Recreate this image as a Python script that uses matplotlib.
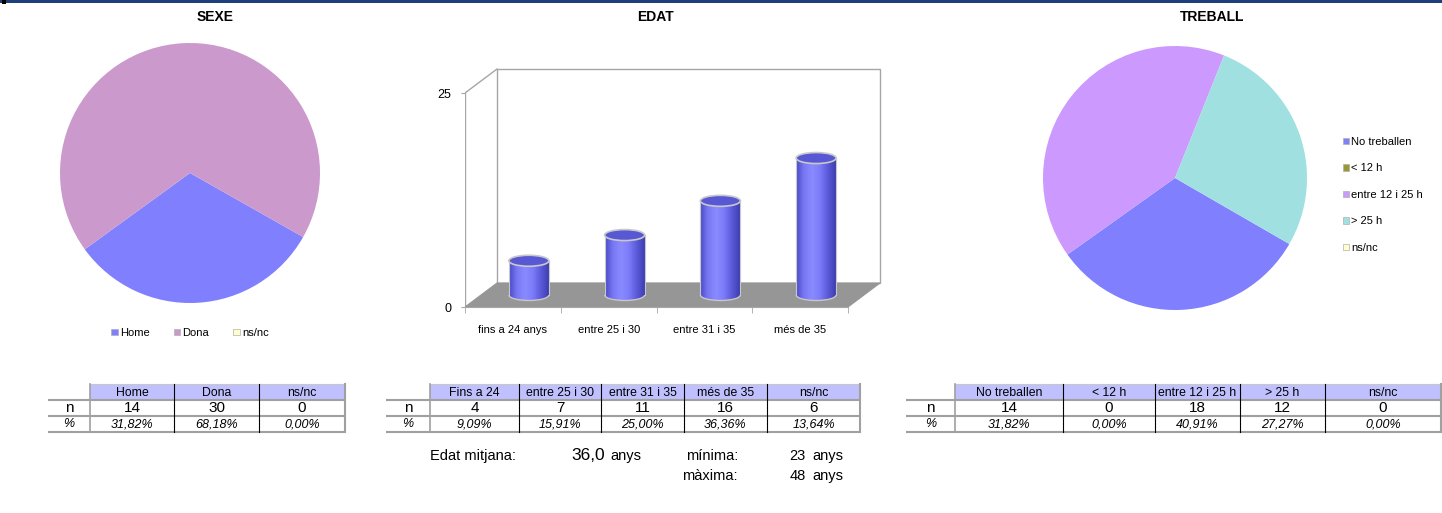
import numpy as np
import matplotlib
matplotlib.use("Agg")
import matplotlib.pyplot as plt
from matplotlib.patches import Rectangle, Ellipse, Polygon, Arc, Patch
from matplotlib.colors import to_rgb

plt.rcParams['font.family'] = ['Liberation Sans', 'DejaVu Sans']

# ---- data ----
sexe_labels = ['Home', 'Dona', 'ns/nc']
sexe_n = [14, 30, 0]
sexe_pct = ['31,82%', '68,18%', '0,00%']
sexe_colors = ['#8080FF', '#CC99CC', '#FFFFCC']

edat_labels = ['fins a 24 anys', 'entre 25 i 30', 'entre 31 i 35', 'més de 35']
edat_bars = [4, 7, 11, 16]
edat_headers = ['Fins a 24', 'entre 25 i 30', 'entre 31 i 35', 'més de 35', 'ns/nc']
edat_n = [4, 7, 11, 16, 6]
edat_pct = ['9,09%', '15,91%', '25,00%', '36,36%', '13,64%']
edat_ticks = [0, 25]

treball_labels = ['No treballen', '< 12 h', 'entre 12 i 25 h', '> 25 h', 'ns/nc']
treball_n = [14, 0, 18, 12, 0]
treball_pct = ['31,82%', '0,00%', '40,91%', '27,27%', '0,00%']
treball_colors = ['#8080FF', '#999933', '#CC99FF', '#A0E0E0', '#FFFFCC']

edat_mitjana = '36,0'
edat_min = '23'
edat_max = '48'

W, H = 1442, 513
fig = plt.figure(figsize=(W / 100, H / 100), dpi=100)

# overlay in pixel coords for text, tables, frame line
ov = fig.add_axes([0, 0, 1, 1])
ov.set_xlim(0, W)
ov.set_ylim(H, 0)
ov.axis('off')
ov.add_patch(Rectangle((0, 0), W, 3, fc='#1F3F7A', ec='none'))
ov.add_patch(Rectangle((2, 0), 4, 4, fc='black', ec='none'))


def px_axes(x0, y0, x1, y1):
    return fig.add_axes([x0 / W, 1 - y1 / H, (x1 - x0) / W, (y1 - y0) / H])


# ---- SEXE pie ----
ov.text(215, 17, 'SEXE', ha='center', va='center', fontsize=10, fontweight='bold')
ax1 = px_axes(60, 43, 320, 303)
ax1.pie(sexe_n, colors=sexe_colors, startangle=-29.5, counterclock=False,
        wedgeprops=dict(linewidth=0))
ax1.set_xlim(-1, 1)
ax1.set_ylim(-1, 1)
handles = [Patch(fc=c, ec='#B0B0B0', lw=0.5) for c in sexe_colors]
fig.legend(handles, sexe_labels, loc='center', bbox_to_anchor=(190 / W, 1 - 333 / H),
           ncol=3, frameon=False, fontsize=8, handlelength=0.55, handleheight=0.55,
           handletextpad=0.2, columnspacing=2.2)

# ---- TREBALL pie ----
ov.text(1212, 17, 'TREBALL', ha='center', va='center', fontsize=10, fontweight='bold')
ax3 = px_axes(1043, 46, 1307, 310)
ax3.pie(treball_n, colors=treball_colors, startangle=-30, counterclock=False,
        wedgeprops=dict(linewidth=0))
ax3.set_xlim(-1, 1)
ax3.set_ylim(-1, 1)
handles = [Patch(fc=c, ec='#B0B0B0', lw=0.5) for c in treball_colors]
fig.legend(handles, treball_labels, loc='upper left', bbox_to_anchor=(1343 / W, 1 - 137 / H),
           ncol=1, frameon=False, fontsize=8, handlelength=0.55, handleheight=0.55,
           handletextpad=0.2, labelspacing=1.48, borderpad=0, borderaxespad=0)

# ---- EDAT pseudo-3D cylinders ----
ov.text(655, 17, 'EDAT', ha='center', va='center', fontsize=10, fontweight='bold')
ppx = 95.75   # px per category
ppy = 8.56    # px per unit
xmax, ymax = 4.35, 28.0
ax2 = fig.add_axes([465 / W, 1 - 307 / H, xmax * ppx / W, ymax * ppy / H])
dx, dy = 32 / ppx, 24 / ppy
wall = '#A6A6A6'
ncat = len(edat_labels)
top = edat_ticks[-1]

# floor
ax2.add_patch(Polygon([(0, 0), (ncat, 0), (ncat + dx, dy), (dx, dy)], closed=True,
                      fc='#969696', ec='#969696', lw=0.8, zorder=1))
# back wall + side wall
ax2.add_patch(Rectangle((dx, dy), ncat, top, fc='white', ec=wall, lw=1.0, zorder=0))
ax2.plot([0, dx], [top, top + dy], color=wall, lw=1.0, zorder=0)
ax2.plot([0, 0], [0, top], color=wall, lw=1.0, zorder=0.5)

bw = 40 / ppx
eh = 11 / ppy
base = dy / 2
stops = [to_rgb(c) for c in ['#4A4AC8', '#7878F4', '#8A8AFF', '#7C7CFA', '#5A5AD8', '#3E3EB0']]
pos = np.linspace(0, 1, len(stops))
g = np.linspace(0, 1, 200)
grad = np.stack([np.interp(g, pos, [s[k] for s in stops]) for k in range(3)], axis=-1)[None, :, :]

for i, v in enumerate(edat_bars):
    xc = i + 0.5 + dx / 2
    x0, x1 = xc - bw / 2, xc + bw / 2
    t = base + v
    body = Rectangle((x0, base), bw, v, transform=ax2.transData)
    im = ax2.imshow(grad, extent=[x0, x1, base - eh / 2, t], aspect='auto', zorder=3,
                    interpolation='bilinear')
    im.set_clip_path(body)
    bot = Ellipse((xc, base), bw, eh, transform=ax2.transData)
    im2 = ax2.imshow(grad, extent=[x0, x1, base - eh / 2, t], aspect='auto', zorder=3,
                     interpolation='bilinear')
    im2.set_clip_path(bot)
    ax2.add_patch(Arc((xc, base), bw, eh, theta1=180, theta2=360, color='#C8C8C8', lw=1.0, zorder=4))
    ax2.plot([x0, x0], [base, t], color='#C8C8C8', lw=0.8, zorder=4)
    ax2.plot([x1, x1], [base, t], color='#C8C8C8', lw=0.8, zorder=4)
    ax2.add_patch(Ellipse((xc, t), bw, eh, fc='#5858D4', ec='#C8C8C8', lw=1.2, zorder=5))

ax2.set_xlim(0, xmax)
ax2.set_ylim(0, ymax)
ax2.set_facecolor('none')
for s in ['top', 'right']:
    ax2.spines[s].set_visible(False)
ax2.spines['left'].set_visible(False)
ax2.spines['bottom'].set_bounds(0, ncat)
ax2.spines['bottom'].set_color(wall)
ax2.set_yticks(edat_ticks)
ax2.set_yticklabels([str(t_) for t_ in edat_ticks], fontsize=9)
ax2.tick_params(axis='y', length=3, color=wall, pad=7)
ax2.set_xticks(np.arange(ncat) + 0.5)
ax2.set_xticklabels(edat_labels, fontsize=8)
ax2.set_xticks(np.arange(ncat + 1), minor=True)
ax2.tick_params(axis='x', which='major', length=0, pad=13)
ax2.tick_params(axis='x', which='minor', length=4, color=wall)


# ---- tables ----
def draw_table(left, edges, headers, nvals, pvals):
    y0, y1, y2, y3 = 384, 400, 416, 432
    ov.add_patch(Rectangle((edges[0], y0), edges[-1] - edges[0], y1 - y0, fc='#C0C0FF', ec='none'))
    lab_x = (left + edges[0]) / 2
    ov.text(lab_x, (y1 + y2) / 2 + 0.5, 'n', ha='center', va='center', fontsize=11)
    ov.text(lab_x, (y2 + y3) / 2, '%', ha='center', va='center', fontsize=9, style='italic')
    for j, h in enumerate(headers):
        cx = (edges[j] + edges[j + 1]) / 2
        ov.text(cx, (y0 + y1) / 2 + 0.5, h, ha='center', va='center', fontsize=8.8)
        ov.text(cx, (y1 + y2) / 2 + 0.5, str(nvals[j]), ha='center', va='center', fontsize=11)
        ov.text(cx, (y2 + y3) / 2 + 0.5, pvals[j], ha='center', va='center', fontsize=9,
                style='italic')
    for yy in (y1, y2, y3):
        ov.plot([left, edges[-1]], [yy, yy], color='#A0A0A0', lw=1.5, solid_capstyle='butt')
    ov.plot([edges[0], edges[-1]], [y0, y0], color='#C8C8C8', lw=0.8)
    ov.plot([edges[0], edges[0]], [y0, y3], color='#A0A0A0', lw=1.2)
    ov.plot([edges[-1], edges[-1]], [y0, y3], color='#A0A0A0', lw=1.5)
    for e in edges[1:-1]:
        ov.plot([e, e], [y0, y3], color='black', lw=0.8)


draw_table(48, [90, 174, 259, 345], sexe_labels, sexe_n, sexe_pct)
draw_table(386, [430, 519, 601, 684, 767, 860], edat_headers, edat_n, edat_pct)
draw_table(906, [955, 1063, 1155, 1240, 1325, 1441], treball_labels, treball_n, treball_pct)

# ---- age summary ----
fs = 10.5
ov.text(430, 456, 'Edat mitjana:', ha='left', va='center', fontsize=fs)
ov.text(605, 455, edat_mitjana, ha='right', va='center', fontsize=12.5)
ov.text(610, 456, 'anys', ha='left', va='center', fontsize=fs)
ov.text(738, 456, 'mínima:', ha='right', va='center', fontsize=fs)
ov.text(806, 456, edat_min, ha='right', va='center', fontsize=fs)
ov.text(812, 456, 'anys', ha='left', va='center', fontsize=fs)
ov.text(738, 476, 'màxima:', ha='right', va='center', fontsize=fs)
ov.text(806, 476, edat_max, ha='right', va='center', fontsize=fs)
ov.text(812, 476, 'anys', ha='left', va='center', fontsize=fs)

fig.savefig('out.png', dpi=100)
